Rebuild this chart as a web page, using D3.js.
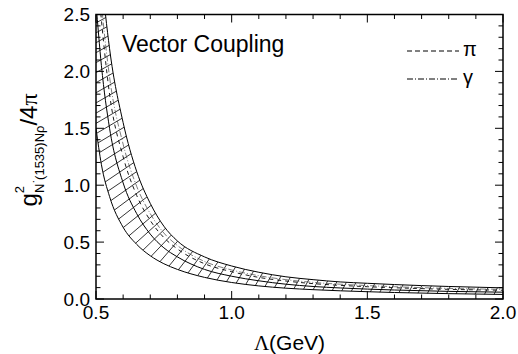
<!DOCTYPE html>
<html>
<head>
<meta charset="utf-8">
<script src="https://cdn.jsdelivr.net/npm/d3@7"></script>
<style>
  body { margin: 0; background: #fff; }
  svg { display: block; }
  text { font-family: Arial, "Liberation Sans", sans-serif; fill: #000; }
</style>
</head>
<body>
<div class="view"></div>
<script>
var width = 518;
var height = 354;

var margin = { top: 14.5, right: 15, bottom: 55, left: 96 };
var plotW = width - margin.left - margin.right;
var plotH = height - margin.top - margin.bottom;

// values
var lambda = [0.50, 0.52, 0.55, 0.60, 0.65, 0.70, 0.75, 0.80, 0.90, 1.00, 1.10, 1.20, 1.30, 1.40, 1.50, 1.60, 1.80, 2.00];
var upper  = [3.40, 2.85, 2.20, 1.55, 1.12, 0.84, 0.64, 0.51, 0.37, 0.29, 0.235, 0.195, 0.17, 0.15, 0.138, 0.127, 0.11, 0.098];
var lower  = [1.50, 1.18, 0.90, 0.63, 0.48, 0.38, 0.31, 0.26, 0.19, 0.145, 0.115, 0.095, 0.082, 0.072, 0.064, 0.057, 0.047, 0.04];
var middle = [2.60, 2.05, 1.50, 1.02, 0.75, 0.57, 0.45, 0.37, 0.26, 0.20, 0.16, 0.13, 0.11, 0.097, 0.087, 0.079, 0.067, 0.06];
var piLine = [3.00, 2.45, 1.80, 1.25, 0.91, 0.69, 0.54, 0.44, 0.31, 0.24, 0.19, 0.158, 0.135, 0.12, 0.108, 0.099, 0.085, 0.077];
var gammaLine = [3.20, 2.60, 1.95, 1.36, 0.99, 0.75, 0.58, 0.47, 0.33, 0.255, 0.205, 0.17, 0.146, 0.13, 0.118, 0.108, 0.093, 0.085];

var xTicks = [0.5, 1.0, 1.5, 2.0];
var yTicks = [0.0, 0.5, 1.0, 1.5, 2.0, 2.5];
var xMinor = d3.range(0.5, 2.0001, 0.1);
var yMinor = d3.range(0, 2.5001, 0.1);

var svg = d3.select(".view")
    .append("svg")
    .attr("width", width)
    .attr("height", height);

var x = d3.scaleLinear().domain([0.5, 2.0]).range([margin.left, margin.left + plotW]);
var y = d3.scaleLinear().domain([0, 2.5]).range([margin.top + plotH, margin.top]);

var defs = svg.append("defs");
defs.append("clipPath").attr("id", "plotClip")
    .append("rect")
    .attr("x", x(0.5)).attr("y", y(2.5))
    .attr("width", x(2.0) - x(0.5)).attr("height", y(0) - y(2.5));

var band = d3.area()
    .x(function (d, i) { return x(lambda[i]); })
    .y0(function (d, i) { return y(lower[i]); })
    .y1(function (d, i) { return y(upper[i]); })
    .curve(d3.curveMonotoneX);

defs.append("clipPath").attr("id", "bandClip")
    .append("path")
    .attr("d", band(lambda));

function lineOf(vals) {
    return d3.line()
        .x(function (d, i) { return x(lambda[i]); })
        .y(function (d, i) { return y(vals[i]); })
        .curve(d3.curveMonotoneX)(vals);
}

var plot = svg.append("g").attr("clip-path", "url(#plotClip)");

// middle curve, used to lay out the hatch rungs
var midPath = plot.append("path")
    .attr("d", lineOf(middle))
    .attr("fill", "none")
    .attr("stroke", "#000")
    .attr("stroke-width", 1);

var hatch = plot.append("g").attr("clip-path", "url(#bandClip)");
var node = midPath.node();
var total = node.getTotalLength();
for (var s = 0; s < total; s += 9.5) {
    var p = node.getPointAtLength(s);
    if (p.y < y(2.5) - 20) continue;
    var a = node.getPointAtLength(Math.max(0, s - 1));
    var b = node.getPointAtLength(Math.min(total, s + 1));
    var tx = b.x - a.x, ty = b.y - a.y;
    var nx = -ty, ny = tx;
    if (ny > 0) { nx = -nx; ny = -ny; }
    // lean the rung between the band normal and a 45 degree hatch
    var phi = 0.4 * Math.atan2(-ny, nx) + 0.6 * Math.PI / 4;
    var dx = Math.cos(phi), dy = -Math.sin(phi);
    hatch.append("line")
        .attr("x1", p.x - dx * 40).attr("y1", p.y - dy * 40)
        .attr("x2", p.x + dx * 40).attr("y2", p.y + dy * 40)
        .attr("stroke", "#000")
        .attr("stroke-width", 0.8);
}

plot.append("path")
    .attr("d", lineOf(upper))
    .attr("fill", "none").attr("stroke", "#000").attr("stroke-width", 1);
plot.append("path")
    .attr("d", lineOf(lower))
    .attr("fill", "none").attr("stroke", "#000").attr("stroke-width", 1);
plot.append("path")
    .attr("d", lineOf(piLine))
    .attr("fill", "none").attr("stroke", "#000").attr("stroke-width", 0.9)
    .attr("stroke-dasharray", "4,4");
plot.append("path")
    .attr("d", lineOf(gammaLine))
    .attr("fill", "none").attr("stroke", "#444").attr("stroke-width", 0.7)
    .attr("stroke-dasharray", "6,2,1,2");

// axes frame with inward ticks on all four sides
var axes = svg.append("g");
axes.append("rect")
    .attr("x", x(0.5)).attr("y", y(2.5))
    .attr("width", x(2.0) - x(0.5)).attr("height", y(0) - y(2.5))
    .attr("fill", "none").attr("stroke", "#000").attr("stroke-width", 1.5);

function isMajor(v, list) {
    return list.some(function (t) { return Math.abs(t - v) < 1e-6; });
}

xMinor.forEach(function (v) {
    var L = isMajor(v, xTicks) ? 8 : 4.5;
    axes.append("line").attr("x1", x(v)).attr("x2", x(v))
        .attr("y1", y(0)).attr("y2", y(0) - L)
        .attr("stroke", "#000").attr("stroke-width", 1);
    axes.append("line").attr("x1", x(v)).attr("x2", x(v))
        .attr("y1", y(2.5)).attr("y2", y(2.5) + L)
        .attr("stroke", "#000").attr("stroke-width", 1);
});
yMinor.forEach(function (v) {
    var L = isMajor(v, yTicks) ? 8 : 4.5;
    axes.append("line").attr("y1", y(v)).attr("y2", y(v))
        .attr("x1", x(0.5)).attr("x2", x(0.5) + L)
        .attr("stroke", "#000").attr("stroke-width", 1);
    axes.append("line").attr("y1", y(v)).attr("y2", y(v))
        .attr("x1", x(2.0)).attr("x2", x(2.0) - L)
        .attr("stroke", "#000").attr("stroke-width", 1);
});

axes.selectAll(".xl").data(xTicks).enter().append("text")
    .attr("x", function (d) { return x(d); })
    .attr("y", y(0) + 20)
    .attr("text-anchor", "middle")
    .attr("font-size", 19)
    .text(function (d) { return d.toFixed(1); });

axes.selectAll(".yl").data(yTicks).enter().append("text")
    .attr("x", x(0.5) - 6)
    .attr("y", function (d) { return y(d); })
    .attr("dy", "0.35em")
    .attr("text-anchor", "end")
    .attr("font-size", 19)
    .text(function (d) { return d.toFixed(1); });

// x title
var xt = svg.append("text")
    .attr("x", (x(0.5) + x(2.0)) / 2 - 10)
    .attr("y", 350)
    .attr("text-anchor", "middle")
    .attr("font-size", 21);
xt.append("tspan").attr("font-family", "'Liberation Serif', serif").text("Λ");
xt.append("tspan").text("(GeV)");

// y title
var yt = svg.append("text")
    .attr("transform", "translate(37," + 150 + ") rotate(-90)")
    .attr("text-anchor", "middle")
    .attr("font-size", 24);
yt.append("tspan").text("g");
yt.append("tspan").attr("font-size", 13).attr("dy", -13).text("2");
yt.append("tspan").attr("font-size", 13).attr("dx", -7).attr("dy", 20).text("N");
yt.append("tspan").attr("font-size", 11).attr("dy", -7).text("·");
yt.append("tspan").attr("font-size", 13).attr("dy", 7).text("(1535)Nρ");
yt.append("tspan").attr("dy", -7).text("/4");
yt.append("tspan").attr("font-family", "'Liberation Serif', serif").text("π");

// inside label and legend
svg.append("text")
    .attr("x", 122).attr("y", 52)
    .attr("font-size", 23)
    .text("Vector Coupling");

var legend = [
    { name: "π", dash: "5,3" },
    { name: "γ", dash: "6,2,1,2" }
];
var lg = svg.append("g").selectAll("g").data(legend).enter().append("g")
    .attr("transform", function (d, i) { return "translate(0," + (51 + i * 28) + ")"; });
lg.append("line")
    .attr("x1", 407).attr("x2", 459)
    .attr("stroke", "#000").attr("stroke-width", 1)
    .attr("stroke-dasharray", function (d) { return d.dash; });
lg.append("text")
    .attr("x", 463).attr("y", 5)
    .attr("font-family", "'Liberation Serif', serif")
    .attr("font-size", 20)
    .text(function (d) { return d.name; });
</script>
</body>
</html>
